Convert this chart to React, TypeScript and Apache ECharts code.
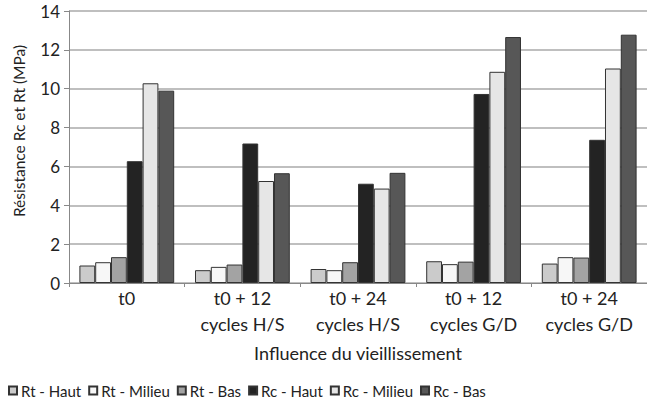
import React, { useEffect, useRef } from "react";
import * as echarts from "echarts";

const categories = [
  "t0",
  "t0 + 12\ncycles H/S",
  "t0 + 24\ncycles H/S",
  "t0 + 12\ncycles G/D",
  "t0 + 24\ncycles G/D",
];
const seriesNames = ["Rt - Haut", "Rt - Milieu", "Rt - Bas", "Rc - Haut", "Rc - Milieu", "Rc - Bas"];
const rtHaut = [0.9, 0.66, 0.72, 1.12, 1.0];
const rtMilieu = [1.07, 0.83, 0.66, 0.97, 1.33];
const rtBas = [1.33, 0.95, 1.07, 1.1, 1.31];
const rcHaut = [6.27, 7.18, 5.11, 9.73, 7.37];
const rcMilieu = [10.28, 5.25, 4.86, 10.87, 11.04];
const rcBas = [9.9, 5.65, 5.67, 12.66, 12.78];
const yTicks = [0, 2, 4, 6, 8, 10, 12, 14];
const yTitle = "Résistance Rc et Rt (MPa)";
const xTitle = "Influence du vieillissement";

const seriesData = [rtHaut, rtMilieu, rtBas, rcHaut, rcMilieu, rcBas];
const colors = ["#cbcbcb", "#f7f7f7", "#a3a3a3", "#232323", "#e6e6e6", "#575757"];

const FONT = "Lato, 'Open Sans', sans-serif";

export default function App() {
  const ref = useRef<HTMLDivElement>(null);
  useEffect(() => {
    if (!ref.current) return;
    const chart = echarts.init(ref.current, null, { renderer: "svg" });
    chart.setOption({
      animation: false,
      backgroundColor: "#ffffff",
      textStyle: { fontFamily: FONT },
      grid: { left: 69, top: 11, right: -4, bottom: 120, containLabel: false },
      legend: {
        left: 3,
        top: 378,
        itemWidth: 8,
        itemHeight: 8,
        itemGap: 7,
        icon: "rect",
        textStyle: { fontFamily: FONT, fontSize: 15, color: "#222", padding: [0, 0, 0, -1] },
        data: seriesNames,
      },
      graphic: [
        {
          type: "text",
          x: 19,
          y: 131,
          rotation: Math.PI / 2,
          style: {
            text: yTitle,
            fontFamily: FONT,
            fontSize: 15.5,
            fill: "#222",
            align: "center",
            verticalAlign: "middle",
          },
        },
      ],
      xAxis: {
        type: "category",
        data: categories,
        axisLine: { lineStyle: { color: "#888", width: 1 } },
        axisTick: { show: true, length: 4, lineStyle: { color: "#888" } },
        axisLabel: {
          fontFamily: FONT,
          fontSize: 18,
          color: "#222",
          lineHeight: 26,
          margin: 2,
        },
        name: xTitle,
        nameLocation: "middle",
        nameGap: 61,
        nameTextStyle: { fontFamily: FONT, fontSize: 18, color: "#222" },
      },
      yAxis: {
        type: "value",
        min: 0,
        max: 14,
        interval: 2,
        axisLine: { show: true, lineStyle: { color: "#888", width: 1 } },
        axisTick: { show: true, length: 5, lineStyle: { color: "#888" } },
        splitLine: { lineStyle: { color: "#aaaaaa", width: 1.5 } },
        axisLabel: {
          fontFamily: FONT,
          fontSize: 17,
          color: "#222",
          margin: 9,
          formatter: (v: number) => (yTicks.includes(v) ? String(v) : ""),
        },
      },
      series: seriesNames.map((name, i) => ({
        name,
        type: "bar",
        data: seriesData[i],
        barGap: "0%",
        barCategoryGap: "18%",
        itemStyle: { color: colors[i], borderColor: "#333", borderWidth: 1 },
        emphasis: { disabled: true },
      })),
    });
    return () => chart.dispose();
  }, []);
  return <div ref={ref} style={{ width: 647, height: 403, position: "absolute", left: 0, top: 0 }} />;
}
